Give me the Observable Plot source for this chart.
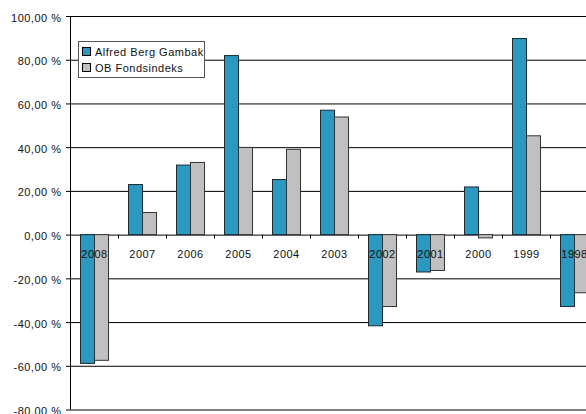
<!DOCTYPE html>
<html>
<head>
<meta charset="utf-8">
<script src="https://cdn.jsdelivr.net/npm/d3@7"></script>
<script src="https://cdn.jsdelivr.net/npm/@observablehq/plot@0.6"></script>
<style>
  html, body { margin: 0; padding: 0; background: #fff; overflow: hidden; }
  #wrap { position: relative; width: 586px; height: 414px; overflow: hidden; font-family: "Liberation Sans", Arial, sans-serif; }
  #wrap svg { overflow: hidden; }
  .legend { position: absolute; left: 78px; top: 41px; width: 125px; height: 35px; border: 1px solid #555; background: #fff; font-size: 11px; letter-spacing: 0.5px; color: #111; }
  .legend .row { position: absolute; left: 3px; height: 14px; line-height: 14px; white-space: nowrap; }
  .legend .sw { display: inline-block; width: 7px; height: 7px; border: 1px solid #000; margin-right: 4px; vertical-align: 0px; }
</style>
</head>
<body>
<div id="wrap"></div>
<script>
const years = ["2008", "2007", "2006", "2005", "2004", "2003", "2002", "2001", "2000", "1999", "1998"];
const alfredBerg = [-58.9, 22.9, 31.8, 81.9, 25.2, 56.9, -41.7, -17.1, 21.8, 89.7, -32.9];
const obIndex = [-57.5, 10.1, 33.0, 39.9, 39.0, 53.8, -32.9, -16.4, -1.5, 45.2, -26.6];
const seriesNames = ["Alfred Berg Gambak", "OB Fondsindeks"];
const seriesColors = ["#2A98C0", "#C0C0C0"];
const yTicks = [-80, -60, -40, -20, 0, 20, 40, 60, 80, 100];

const table = years.map((year, i) => ({year, a: alfredBerg[i], b: obIndex[i]}));
const fmt = d => d.toFixed(2).replace(".", ",") + " %";
const firstYear = () => years[0];

const chart = Plot.plot({
  width: 586,
  height: 414,
  marginLeft: 70,
  marginRight: 0,
  marginTop: 16,
  marginBottom: 5,
  style: {fontFamily: "'Liberation Sans', Arial, sans-serif", fontSize: "11px", background: "#fff", letterSpacing: "0.5px", color: "#111"},
  x: {domain: years, range: [70, 598], padding: 0, axis: null},
  y: {domain: [-80, 100], range: [409.5, 16], axis: null},
  marks: [
    Plot.ruleY(yTicks, {stroke: "#000", strokeWidth: 1}),
    Plot.barY(table, {x: "year", y: "a", fill: seriesColors[0], stroke: "#1a2a30", strokeWidth: 1, insetLeft: 10.5, insetRight: 23.5}),
    Plot.barY(table, {x: "year", y: "b", fill: seriesColors[1], stroke: "#333", strokeWidth: 1, insetLeft: 24.5, insetRight: 9.5}),
    Plot.ruleX([years[0]], {x: d => d, y1: -80, y2: 100, dx: -24, stroke: "#000"}),
    Plot.ruleX(years.slice(1), {x: d => d, y1: 0, y2: 0, insetBottom: -4, dx: -24, stroke: "#000"}),
    Plot.tickY(yTicks, {y: d => d, x: firstYear, insetLeft: -4, insetRight: 48, stroke: "#000"}),
    Plot.text(yTicks, {y: d => d, x: firstYear, dx: -33, dy: 1.5, text: d => fmt(d), textAnchor: "end", fill: "#111"}),
    Plot.text(years, {x: d => d, y: 0, dy: 19, text: d => d, fill: "#111"})
  ]
});
const wrap = document.getElementById("wrap");
wrap.appendChild(chart);

const legend = document.createElement("div");
legend.className = "legend";
seriesNames.forEach((name, i) => {
  const row = document.createElement("div");
  row.className = "row";
  row.style.top = (3 + i * 16) + "px";
  const sw = document.createElement("span");
  sw.className = "sw";
  sw.style.background = seriesColors[i];
  row.appendChild(sw);
  row.appendChild(document.createTextNode(name));
  legend.appendChild(row);
});
wrap.appendChild(legend);
</script>
</body>
</html>
